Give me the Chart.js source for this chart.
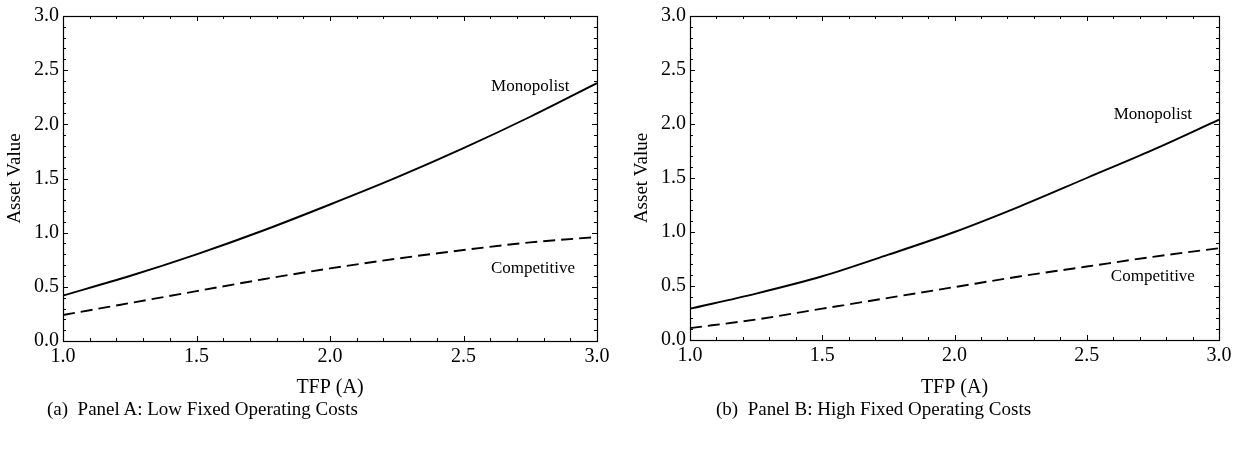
<!DOCTYPE html>
<html>
<head>
<meta charset="utf-8">
<script src="https://cdn.jsdelivr.net/npm/chart.js@4/dist/chart.umd.min.js"></script>
<style>
  html, body { margin: 0; padding: 0; background: #fff; }
  #wrap { position: relative; width: 1247px; height: 454px; overflow: hidden; }
  canvas { position: absolute; top: 0; }
  .cap { position: absolute; top: 398px; font-family: "Liberation Serif", "Times New Roman", serif; font-size: 19px; color: #000; white-space: nowrap; }
</style>
</head>
<body>
<div id="wrap">
  <canvas id="cA" width="615" height="400" style="left:0px"></canvas>
  <canvas id="cB" width="620" height="400" style="left:627px"></canvas>
  <div class="cap" style="left:47px">(a)&nbsp; Panel A: Low Fixed Operating Costs</div>
  <div class="cap" style="left:716px">(b)&nbsp; Panel B: High Fixed Operating Costs</div>
</div>
<script>
// ---- data ----
const tfp = [1.0, 1.25, 1.5, 1.75, 2.0, 2.25, 2.5, 2.75, 3.0];
const monoA = [0.42, 0.60, 0.80, 1.02, 1.26, 1.51, 1.78, 2.07, 2.38];
const compA = [0.24, 0.35, 0.46, 0.57, 0.67, 0.76, 0.84, 0.91, 0.96];
const monoB = [0.29, 0.43, 0.59, 0.79, 1.00, 1.24, 1.50, 1.76, 2.04];
const compB = [0.11, 0.19, 0.29, 0.39, 0.49, 0.59, 0.68, 0.77, 0.85];
const xTickLabels = ['1.0', '1.5', '2.0', '2.5', '3.0'];
const yTickLabels = ['0.0', '0.5', '1.0', '1.5', '2.0', '2.5', '3.0'];
const seriesNames = ['Monopolist', 'Competitive'];

const FONT = '"Liberation Serif", "Times New Roman", serif';
Chart.defaults.font.family = FONT;
Chart.defaults.color = '#000';

const frameTicks = {
  id: 'frameTicks',
  afterDatasetsDraw(chart) {
    const { ctx, chartArea: a, scales: { x, y } } = chart;
    ctx.save();
    ctx.strokeStyle = '#000';
    ctx.lineWidth = 1;
    ctx.beginPath();
    for (let i = 0; i <= 20; i++) {
      const px = Math.round(x.getPixelForValue(1 + i * 0.1)) + 0.5;
      const len = (i % 5 === 0) ? 5 : 3;
      ctx.moveTo(px, a.bottom); ctx.lineTo(px, a.bottom - len);
      ctx.moveTo(px, a.top); ctx.lineTo(px, a.top + len);
    }
    for (let i = 0; i <= 30; i++) {
      const py = Math.round(y.getPixelForValue(i * 0.1)) + 0.5;
      const len = (i % 5 === 0) ? 5 : 3;
      ctx.moveTo(a.left, py); ctx.lineTo(a.left + len, py);
      ctx.moveTo(a.right, py); ctx.lineTo(a.right - len, py);
    }
    ctx.stroke();
    ctx.lineWidth = 1.2;
    ctx.strokeRect(Math.round(a.left) + 0.5, Math.round(a.top) + 0.5, Math.round(a.width), Math.round(a.height));
    // annotations
    const items = (chart.options.plugins.annot || {}).items || [];
    ctx.fillStyle = '#000';
    ctx.font = '17px ' + FONT;
    ctx.textAlign = 'center';
    ctx.textBaseline = 'middle';
    items.forEach(it => {
      ctx.fillText(it.text, x.getPixelForValue(it.x), y.getPixelForValue(it.y));
    });
    ctx.restore();
  }
};

function makeChart(id, mono, comp, box, annot) {
  const pts = arr => tfp.map((v, i) => ({ x: v, y: arr[i] }));
  const canvas = document.getElementById(id);
  return new Chart(canvas, {
    type: 'line',
    data: {
      datasets: [
        { label: seriesNames[0], data: pts(mono), borderColor: '#000', borderWidth: 1.9, pointRadius: 0, tension: 0.4, cubicInterpolationMode: 'monotone', fill: false },
        { label: seriesNames[1], data: pts(comp), borderColor: '#000', borderWidth: 1.9, borderDash: [12, 6], pointRadius: 0, tension: 0.4, cubicInterpolationMode: 'monotone', fill: false }
      ]
    },
    options: {
      responsive: false,
      devicePixelRatio: 1,
      animation: false,
      layout: { padding: { left: 0, top: box.top, right: canvas.width - box.right, bottom: 0 } },
      plugins: { legend: { display: false }, tooltip: { enabled: false }, annot: { items: annot } },
      scales: {
        x: {
          type: 'linear', min: 1, max: 3,
          grid: { display: false, drawTicks: false },
          border: { display: false },
          ticks: { stepSize: 0.5, padding: 4, font: { size: 20 }, color: '#000',
                   callback: (v) => { const i = Math.round((v - 1) / 0.5); return xTickLabels[i]; } },
          title: { display: true, text: 'TFP (A)', font: { size: 20 }, color: '#000', padding: { top: 0, bottom: 0 } },
          afterFit: (s) => { s.height = canvas.height - box.bottom; }
        },
        y: {
          type: 'linear', min: 0, max: 3,
          grid: { display: false, drawTicks: false },
          border: { display: false },
          ticks: { stepSize: 0.5, padding: 4, font: { size: 20 }, color: '#000',
                   callback: (v) => { const i = Math.round(v / 0.5); return yTickLabels[i]; } },
          title: { display: true, text: 'Asset Value', font: { size: 19 }, color: '#000', padding: { top: 4, bottom: 0 } },
          afterFit: (s) => { s.width = box.left; }
        }
      }
    },
    plugins: [frameTicks]
  });
}

makeChart('cA', monoA, compA, { left: 63, top: 12, right: 597, bottom: 341 },
  [{ text: seriesNames[0], x: 2.75, y: 2.35 }, { text: seriesNames[1], x: 2.76, y: 0.67 }]);
makeChart('cB', monoB, compB, { left: 63, top: 14, right: 592, bottom: 340 },
  [{ text: seriesNames[0], x: 2.75, y: 2.09 }, { text: seriesNames[1], x: 2.75, y: 0.59 }]);
</script>
</body>
</html>
